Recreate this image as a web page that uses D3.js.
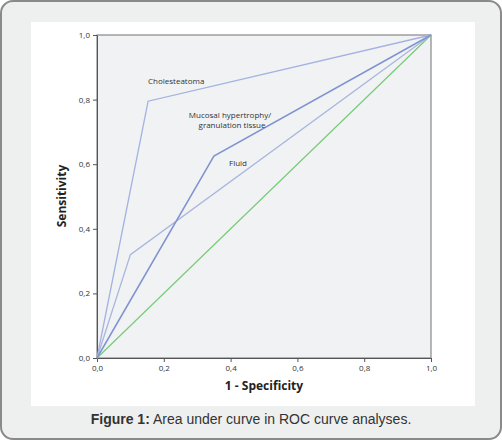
<!DOCTYPE html>
<html><head><meta charset="utf-8">
<script src="https://cdn.jsdelivr.net/npm/d3@7"></script>
<style>body{margin:0;background:#fff}</style>
</head><body>
<svg id="c" width="502" height="440"></svg>
<script>
// Data.
const tickValues = [0, 0.2, 0.4, 0.6, 0.8, 1.0];
const cholesteatoma = [[0, 0], [0.153, 0.795], [1, 1]];
const mucosal = [[0, 0], [0.35, 0.625], [1, 1]];
const fluid = [[0, 0], [0.1, 0.32], [1, 1]];
const reference = [[0, 0], [1, 1]];

const svg = d3.select("#c");
// Frame and caption band.
svg.append("rect").attr("x", 1).attr("y", 1).attr("width", 500).attr("height", 438)
    .attr("rx", 12).attr("fill", "#eef0ef").attr("stroke", "#8a8a8a").attr("stroke-width", 2);
svg.append("rect").attr("x", 31).attr("y", 22).attr("width", 444).attr("height", 384).attr("fill", "#fff");

const x = d3.scaleLinear().domain([0, 1]).range([97, 431]);
const y = d3.scaleLinear().domain([0, 1]).range([358, 35]);

svg.append("rect").attr("x", 97).attr("y", 35).attr("width", 334).attr("height", 323)
    .attr("fill", "#f1f2f4").attr("stroke", "#888").attr("stroke-width", 1.2);

const fmt = d => d3.format(".1f")(d).replace(".", ",");
const styleAxis = g => {
    g.select(".domain").attr("stroke", "#555");
    g.selectAll(".tick line").attr("stroke", "#555");
    g.selectAll("text").attr("fill", "#333").attr("font-family", "Open Sans, sans-serif").attr("font-size", 8);
};
svg.append("g").attr("transform", "translate(0,358)")
    .call(d3.axisBottom(x).tickValues(tickValues).tickFormat(fmt).tickSize(4).tickSizeOuter(0)).call(styleAxis);
svg.append("g").attr("transform", "translate(97,0)")
    .call(d3.axisLeft(y).tickValues(tickValues).tickFormat(fmt).tickSize(4).tickSizeOuter(0)).call(styleAxis);

const line = d3.line().x(d => x(d[0])).y(d => y(d[1]));
svg.append("path").datum(reference).attr("d", line).attr("fill", "none").attr("stroke", "#77cc77").attr("stroke-width", 1.2);
svg.append("path").datum(fluid).attr("d", line).attr("fill", "none").attr("stroke", "#a9b6dd").attr("stroke-width", 1.3);
svg.append("path").datum(cholesteatoma).attr("d", line).attr("fill", "none").attr("stroke", "#a3b2e0").attr("stroke-width", 1.3);
svg.append("path").datum(mucosal).attr("d", line).attr("fill", "none").attr("stroke", "#7f93cf").attr("stroke-width", 1.5);

const lab = (t, px, py, anchor) => svg.append("text").attr("x", px).attr("y", py).text(t)
    .attr("font-family", "Open Sans, sans-serif").attr("font-size", 8).attr("fill", "#333")
    .attr("text-anchor", anchor || "start");
lab("Cholesteatoma", 148, 84);
lab("Mucosal hypertrophy/", 230, 118, "middle");
lab("granulation tissue", 232, 128, "middle");
lab("Fluid", 229, 166);

svg.append("text").attr("x", 264).attr("y", 390).attr("text-anchor", "middle")
    .attr("font-family", "Open Sans, sans-serif").attr("font-weight", "bold").attr("font-size", 12)
    .attr("fill", "#222").text("1 - Specificity");
svg.append("text").attr("transform", "translate(66,196) rotate(-90)").attr("text-anchor", "middle")
    .attr("font-family", "Open Sans, sans-serif").attr("font-weight", "bold").attr("font-size", 12)
    .attr("fill", "#222").text("Sensitivity");

const cap = svg.append("text").attr("x", 251).attr("y", 424).attr("text-anchor", "middle")
    .attr("font-family", "Liberation Sans, Arial, sans-serif").attr("font-size", 14).attr("fill", "#333");
cap.append("tspan").attr("font-weight", "bold").text("Figure 1:");
cap.append("tspan").text(" Area under curve in ROC curve analyses.");
</script>
</body></html>
